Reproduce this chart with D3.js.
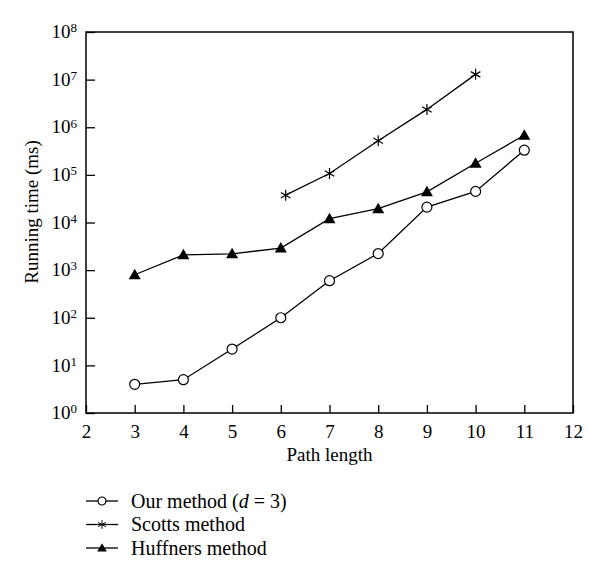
<!DOCTYPE html>
<html>
<head>
<meta charset="utf-8">
<script src="https://cdn.jsdelivr.net/npm/d3@7"></script>
<style>
  body { margin: 0; background: #fff; }
  text { font-family: "Liberation Serif", "DejaVu Serif", serif; fill: #000; }
</style>
</head>
<body>
<svg id="canvas" width="600" height="578"></svg>
<script>
// path lengths and running times (ms)
var ourX = [3, 4, 5, 6, 7, 8, 9, 10, 11];
var ourY = [4, 5, 22, 100, 600, 2230, 21000, 45000, 330000];

var scottsX = [6.1, 7, 8, 9, 10];
var scottsY = [37500, 107000, 520000, 2370000, 12900000];

var huffX = [3, 4, 5, 6, 7, 8, 9, 10, 11];
var huffY = [800, 2100, 2200, 2900, 12000, 19500, 44000, 175000, 680000];

var xTicks = [2, 3, 4, 5, 6, 7, 8, 9, 10, 11, 12];
var yExponents = [0, 1, 2, 3, 4, 5, 6, 7, 8];

var legendLabels = ['Our method', 'Scotts method', 'Huffners method'];

var svg = d3.select('#canvas');
var margin = { left: 86, top: 32, right: 27, bottom: 165 };
var width = 600 - margin.left - margin.right;
var height = 578 - margin.top - margin.bottom;

var x = d3.scaleLinear().domain([2, 12]).range([0, width]);
var y = d3.scaleLog().domain([1, 1e8]).range([height, 0]);

var g = svg.append('g')
  .attr('transform', 'translate(' + margin.left + ',' + margin.top + ')');

// frame
g.append('rect')
  .attr('width', width).attr('height', height)
  .attr('fill', 'none').attr('stroke', '#000').attr('stroke-width', 1.5);

// x axis, ticks point inward
var xAxis = g.append('g')
  .attr('transform', 'translate(0,' + height + ')')
  .call(d3.axisBottom(x).tickValues(xTicks).tickSize(-8).tickPadding(12).tickFormat(d3.format('d')));
xAxis.select('.domain').remove();
xAxis.selectAll('line').attr('stroke-width', 1.3);
xAxis.selectAll('text').style('font-size', '19px').style('font-family', '"Liberation Serif", serif');

// y axis, powers of ten
var yAxis = g.append('g')
  .call(d3.axisLeft(y).tickValues(yExponents.map(e => Math.pow(10, e))).tickSize(-9).tickPadding(12).tickFormat(''));
yAxis.select('.domain').remove();
yAxis.selectAll('line').attr('stroke-width', 1.3);
yAxis.selectAll('.tick').each(function(d) {
  var t = d3.select(this).append('text')
    .attr('x', -9).attr('dy', '0.3em')
    .attr('text-anchor', 'end')
    .style('font-size', '19px');
  t.append('tspan').text('10');
  t.append('tspan').attr('dy', '-0.45em').style('font-size', '13px').text(Math.round(Math.log10(d)));
});

// axis titles
svg.append('text')
  .attr('x', margin.left + width / 2).attr('y', 461)
  .attr('text-anchor', 'middle').style('font-size', '19px')
  .text('Path length');
svg.append('text')
  .attr('transform', 'translate(38,' + (margin.top + 180) + ') rotate(-90)')
  .attr('text-anchor', 'middle').style('font-size', '19px')
  .text('Running time (ms)');

// markers
function drawMarker(sel, type) {
  if (type === 'circle') {
    sel.append('circle').attr('r', 5).attr('fill', '#fff').attr('stroke', '#000').attr('stroke-width', 1.2);
  } else if (type === 'star') {
    var s = 5.5;
    [0, 60, 120].forEach(function(a) {
      sel.append('line')
        .attr('x1', 0).attr('y1', -s).attr('x2', 0).attr('y2', s)
        .attr('transform', 'rotate(' + a + ')')
        .attr('stroke', '#000').attr('stroke-width', 1.2);
    });
  } else {
    sel.append('path').attr('d', 'M0,-6L6,4.5L-6,4.5Z').attr('fill', '#000');
  }
}

var series = [
  { xs: ourX, ys: ourY, marker: 'circle' },
  { xs: scottsX, ys: scottsY, marker: 'star' },
  { xs: huffX, ys: huffY, marker: 'triangle' }
];

var line = d3.line().x(d => x(d[0])).y(d => y(d[1]));

series.forEach(function(s) {
  var pts = s.xs.map((v, i) => [v, s.ys[i]]);
  g.append('path').attr('d', line(pts))
    .attr('fill', 'none').attr('stroke', '#000').attr('stroke-width', 1.3);
  pts.forEach(function(p) {
    var m = g.append('g').attr('transform', 'translate(' + x(p[0]) + ',' + y(p[1]) + ')');
    drawMarker(m, s.marker);
  });
});

// legend
var legend = svg.append('g').attr('transform', 'translate(86,501)');
series.forEach(function(s, i) {
  var row = legend.append('g').attr('transform', 'translate(0,' + (i * 23.5) + ')');
  row.append('line').attr('x1', 0).attr('x2', 32).attr('stroke', '#000').attr('stroke-width', 1.3);
  drawMarker(row.append('g').attr('transform', 'translate(16,0)').attr('class', 'lm'), s.marker);
  var t = row.append('text').attr('x', 45).attr('dy', '0.33em').style('font-size', '20px');
  t.append('tspan').text(legendLabels[i]);
  if (i === 0) {
    t.append('tspan').text(' (');
    t.append('tspan').style('font-style', 'italic').text('d');
    t.append('tspan').text(' = 3)');
  }
});
legend.selectAll('.lm circle').attr('r', 4);
legend.selectAll('.lm path').attr('transform', 'scale(0.8)');
legend.selectAll('.lm line').attr('transform', function() { return d3.select(this).attr('transform') + ' scale(0.8)'; });
</script>
</body>
</html>
